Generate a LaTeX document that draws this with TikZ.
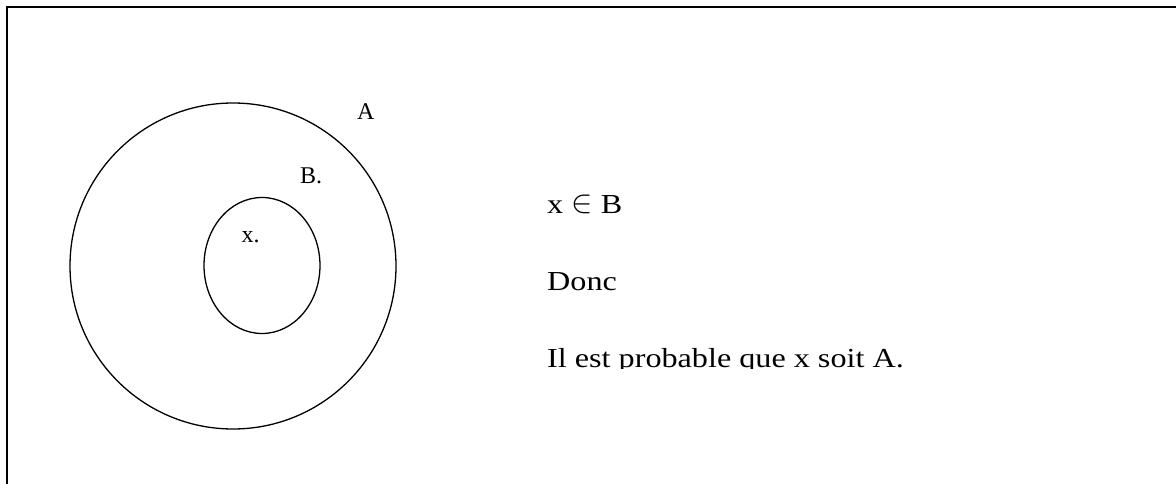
\documentclass[tikz,border=0pt]{standalone}
\usepackage{fontspec}
\setmainfont{Liberation Serif}
\usepackage{graphicx}
\usepackage{tikz}
\usetikzlibrary{positioning}

\newcommand{\bigin}{\raisebox{0.2pt}{\scalebox{1.1}[1.3]{$\in$}}}

\begin{document}
\begin{tikzpicture}[
  x=1pt, y=-1pt,
  frame/.style={draw=black, line width=2pt},
  setline/.style={draw=black, line width=1.3pt},
  setlabel/.style={
    inner sep=0pt, anchor=base west, font=\fontsize{24}{28}\selectfont
  },
  claim/.style={
    inner sep=0pt, anchor=base west, font=\fontsize{27.5}{32}\selectfont,
    xscale=1.17, transform shape
  }
]
\useasboundingbox (0,0) rectangle (1176,484);
\clip (0,0) rectangle (1176,484);
\draw[frame] (7,7) rectangle (1190,500);

\draw[setline] (233,266) circle[radius=163];
\draw[setline] (262,265.5) ellipse[x radius=58, y radius=68];

\node[setlabel] (labA) at (357,120) {A};
\node[setlabel] (labB) at (300,184) {B.};
\node[setlabel] (labx) at (241.5,242) {x.};

\node[claim] (inB) at (547,213) {x \bigin\ B};
\node[claim] (donc) at (547,290) {Donc};
\begin{scope}
  \clip (530,330) rectangle (930,368.5);
  \node[claim] (concl) at (547,367) {Il est probable que x soit A.};
\end{scope}
\end{tikzpicture}
\end{document}
